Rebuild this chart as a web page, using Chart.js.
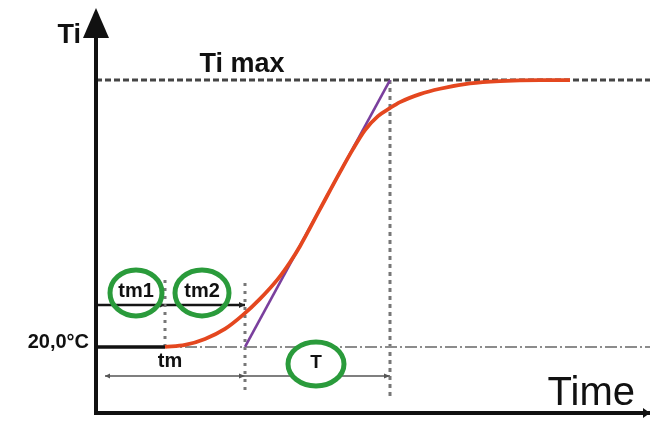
<!DOCTYPE html>
<html>
<head>
<meta charset="utf-8">
<title>Ti - Time</title>
<script src="https://cdn.jsdelivr.net/npm/chart.js@4.4.0/dist/chart.umd.min.js"></script>
<style>
  html, body { margin: 0; padding: 0; background: #fff; }
  #graph { display: block; }
</style>
</head>
<body>
<canvas id="graph" width="650" height="423"></canvas>
<script>
// curva de calentamiento (tiempo, Ti)
const curveTime = [6.9, 8.9, 10.9, 12.9, 14.7, 16.4, 18.2, 19.4, 20.4, 22.4, 24.4, 25.7, 26.9, 28.2, 29.4, 30.4, 32.4, 34.4, 37.4, 40.4, 44.4, 47.4];
const curveTi = [20, 20.3, 21.2, 22.7, 24.8, 27.2, 30.2, 32.7, 35.1, 40.65, 46.2, 49.65, 52.5, 54.6, 55.8, 56.7, 57.9, 58.7, 59.5, 59.85, 60, 60];
// tangente en el punto de inflexion
const tangentTime = [14.9, 29.4];
const tangentTi = [20, 60];
// tiempos marcados: fin tm1, fin tm, fin T
const markTime = [6.9, 14.9, 29.4];
// niveles: inicial y maximo
const levelTi = [20, 60];
const levelLabels = ['20,0°C', 'Ti max'];
const axisLabels = ['Ti', 'Time'];

let $d = document;
const xMin = -9.6, xMax = 55.4, yMin = 8.6, yMax = 72;
const axisBase = 10.1, axisTop = 70.8, arrowBase = 66.3;
const rowTm12 = 26.3, rowTm = 15.65;

// notas con anillo verde
const notes = [
    { text: 'tm1', t: 4.0, ti: 28.1, ring: [26, 23] },
    { text: 'tm2', t: 10.6, ti: 28.1, ring: [27, 23] },
    { text: 'T', t: 22.0, ti: 17.45, ring: [28, 22] },
    { text: 'tm', t: 7.4, ti: 17.6 }
];

const pts = (xs, ys) => xs.map((x, i) => ({ x: x, y: ys[i] }));

const lineSet = (data, color, width, dash, extra) => {
    return Object.assign({
        data: data,
        borderColor: color,
        borderWidth: width,
        borderDash: dash || [],
        pointRadius: 0,
        pointHoverRadius: 0,
        showLine: true,
        fill: false,
        tension: 0
    }, extra || {});
}

const datasets = [
    lineSet(pts(curveTime, curveTi), '#e4471f', 3.8, [], { cubicInterpolationMode: 'monotone' }),
    lineSet(pts(tangentTime, tangentTi), '#7a3f9d', 2.6),
    lineSet(pts([0, xMax], [levelTi[1], levelTi[1]]), '#454545', 3, [6, 3]),
    lineSet(pts([0, markTime[0]], [levelTi[0], levelTi[0]]), '#111', 3.5),
    lineSet(pts([markTime[0], xMax], [levelTi[0], levelTi[0]]), '#8c8c8c', 2, [12, 3, 2, 3]),
    lineSet(pts([markTime[0], markTime[0]], [levelTi[0], 30.3]), '#777', 3, [3, 5]),
    lineSet(pts([markTime[1], markTime[1]], [13.55, 29.7]), '#777', 3, [3, 5]),
    lineSet(pts([markTime[2], markTime[2]], [12.65, levelTi[1]]), '#777', 3, [4, 4]),
    lineSet(pts([0, markTime[1]], [rowTm12, rowTm12]), '#151515', 2.5),
    lineSet(pts([0.9, markTime[2]], [rowTm, rowTm]), '#555', 1.5)
];

const arrowHead = (ctx, x, y, dir, len, half) => {
    ctx.beginPath();
    ctx.moveTo(x, y);
    ctx.lineTo(x - dir * len, y - half);
    ctx.lineTo(x - dir * len, y + half);
    ctx.closePath();
    ctx.fill();
}

const diagram = {
    id: 'diagram',
    afterDatasetsDraw(chart) {
        let ctx = chart.ctx,
            sx = chart.scales.x,
            sy = chart.scales.y;
        const px = v => sx.getPixelForValue(v),
            py = v => sy.getPixelForValue(v);
        ctx.save();

        // ejes
        ctx.strokeStyle = '#111';
        ctx.fillStyle = '#111';
        ctx.lineWidth = 4;
        ctx.beginPath();
        ctx.moveTo(px(0), py(axisBase) + 2);
        ctx.lineTo(px(0), py(arrowBase));
        ctx.stroke();
        ctx.beginPath();
        ctx.moveTo(px(0) - 2, py(axisBase));
        ctx.lineTo(px(xMax), py(axisBase));
        ctx.stroke();
        ctx.beginPath();
        ctx.moveTo(px(0), py(axisTop));
        ctx.lineTo(px(0) - 13, py(arrowBase));
        ctx.lineTo(px(0) + 13, py(arrowBase));
        ctx.closePath();
        ctx.fill();
        arrowHead(ctx, px(xMax), py(axisBase), 1, 7, 5);

        // puntas de flecha pequeñas
        ctx.fillStyle = '#222';
        arrowHead(ctx, px(markTime[1]), py(rowTm12), 1, 6, 3);
        arrowHead(ctx, px(markTime[0]), py(rowTm12), 1, 5, 2.5);
        ctx.fillStyle = '#555';
        arrowHead(ctx, px(markTime[1]), py(rowTm), 1, 6, 2.5);
        arrowHead(ctx, px(markTime[2]), py(rowTm), 1, 6, 2.5);
        arrowHead(ctx, px(0.9), py(rowTm), -1, 5, 2.5);

        // anillos verdes
        notes.forEach(n => {
            if (!n.ring) return;
            ctx.beginPath();
            ctx.ellipse(px(n.t), py(n.ti), n.ring[0], n.ring[1], 0, 0, Math.PI * 2);
            if (n.text === 'T') {
                ctx.fillStyle = '#fff';
                ctx.fill();
            }
            ctx.strokeStyle = '#2a9b3b';
            ctx.lineWidth = 5;
            ctx.stroke();
        });

        // textos
        ctx.fillStyle = '#111';
        ctx.textBaseline = 'middle';
        ctx.textAlign = 'center';
        notes.forEach(n => {
            ctx.font = n.text === 'T' ? 'bold 19px "Liberation Sans", Arial, sans-serif' : 'bold 20px "Liberation Sans", Arial, sans-serif';
            ctx.fillText(n.text, px(n.t), py(n.ti) - 1);
        });

        ctx.textBaseline = 'alphabetic';
        ctx.font = 'bold 27px "Liberation Sans", Arial, sans-serif';
        ctx.textAlign = 'right';
        ctx.fillText(axisLabels[0], px(0) - 15, py(axisTop) + 35);
        ctx.textAlign = 'center';
        ctx.fillText(levelLabels[1], px(14.6), py(levelTi[1]) - 8);

        ctx.font = 'bold 20px "Liberation Sans", Arial, sans-serif';
        ctx.textAlign = 'right';
        ctx.fillText(levelLabels[0], px(0) - 7, py(levelTi[0]) + 1);

        ctx.font = '40px "Liberation Sans", Arial, sans-serif';
        ctx.fillText(axisLabels[1], px(xMax) - 15, py(axisBase) - 8);

        ctx.restore();
    }
};

$d.addEventListener('DOMContentLoaded', () => {
    new Chart($d.getElementById('graph').getContext('2d'), {
        type: 'scatter',
        data: { datasets: datasets },
        options: {
            responsive: false,
            animation: false,
            devicePixelRatio: 1,
            layout: { padding: 0 },
            plugins: { legend: { display: false }, tooltip: { enabled: false } },
            scales: {
                x: { type: 'linear', min: xMin, max: xMax, display: false },
                y: { type: 'linear', min: yMin, max: yMax, display: false }
            }
        },
        plugins: [diagram]
    });
});
</script>
</body>
</html>
